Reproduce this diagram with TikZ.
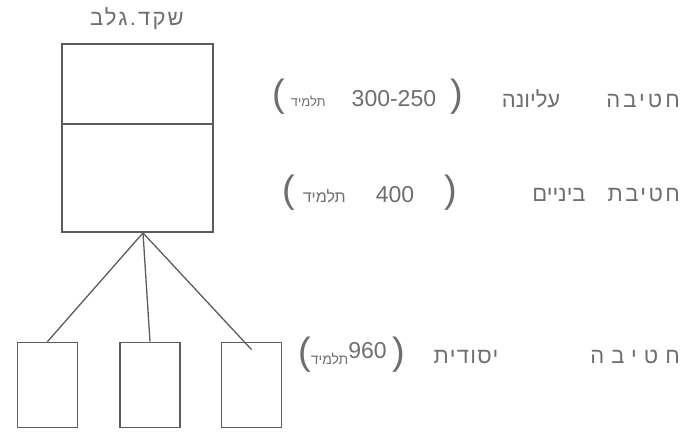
\documentclass[tikz,border=0pt]{standalone}
\usepackage{fontspec}
\setmainfont{Liberation Sans}
\newfontfamily\hebfont[Script=Hebrew]{Liberation Sans}
\TeXXeTstate=1
\usepackage{tikz}
\usetikzlibrary{positioning}
\definecolor{pencil}{HTML}{5C5C5C}
\definecolor{graphite}{HTML}{6E6E6E}
\newcommand{\bigparen}[1]{{\fontsize{38}{38}\selectfont #1}}
\newcommand{\spaced}[2]{{\addfontfeature{LetterSpace=#1}#2}}

\begin{document}
\begin{tikzpicture}[x=1pt,y=-1pt,
        levelnode/.style={rectangle, draw=pencil, line width=1.8pt, minimum width=151pt, inner sep=0pt},
        unitnode/.style={rectangle, draw=pencil, line width=1.6pt, minimum width=60pt, minimum height=85pt, inner sep=0pt},
        labelnode/.style={text=graphite, font=\hebfont\fontsize{22}{26}\selectfont, inner sep=0pt},
        countnode/.style={text=graphite, font=\fontsize{23}{26}\selectfont, inner sep=0pt},
    ]
    \useasboundingbox (0,0) rectangle (685,436);

    % Objects
    \node[labelnode, anchor=east] (schoolName) at (184,19) {\beginR\spaced{10}{שקד.גלב}\endR};
    \node[levelnode, minimum height=80pt] (upperLevel) at (137.5,84) {};
    \node[levelnode, minimum height=108pt] (middleLevel) at (137.5,178) {};
    \coordinate (hub) at ([xshift=5.5pt]middleLevel.south);

    \node[unitnode] (unitB) at (150,385) {};
    \node[unitnode, left=41pt of unitB] (unitA) {};
    \node[unitnode, right=40pt of unitB] (unitC) {};

    % Labels
    \node[labelnode, anchor=east] (upperName) at (680,99) {\beginR\spaced{14}{חטיבה}\hspace{46pt}עליונה\endR};
    \node[countnode, anchor=west] (upperCount) at (272,97) {\bigparen{(}\hspace{6pt}{\hebfont\fontsize{13}{15}\selectfont\beginR תלמיד\endR}\hspace{26pt}300-250\hspace{14pt}\bigparen{)}};
    \node[labelnode, anchor=east] (middleName) at (680,195) {\beginR\spaced{11}{חטיבת}\hspace{22pt}ביניים\endR};
    \node[countnode, anchor=west] (middleCount) at (282,193) {\bigparen{(}\hspace{8pt}{\hebfont\fontsize{16}{18}\selectfont\beginR תלמיד\endR}\hspace{30pt}400\hspace{30pt}\bigparen{)}};
    \node[labelnode, anchor=east] (lowerName) at (680,357) {\beginR\spaced{32}{חטיבה}\hspace{92pt}\spaced{6}{יסודית}\endR};
    \node[countnode, anchor=west] (lowerCount) at (298,355) {\bigparen{(}{\hebfont\fontsize{14}{16}\selectfont\beginR תלמיד\endR}\raisebox{6pt}{960}\hspace{6pt}\bigparen{)}};

    % Lines
    \draw[pencil, line width=1.3pt] (hub) -- (unitA.north);
    \draw[pencil, line width=1.3pt] (hub) -- (unitB.north);
    \draw[pencil, line width=1.3pt] (hub) -- ([yshift=-8pt]unitC.north);

\end{tikzpicture}
\end{document}
